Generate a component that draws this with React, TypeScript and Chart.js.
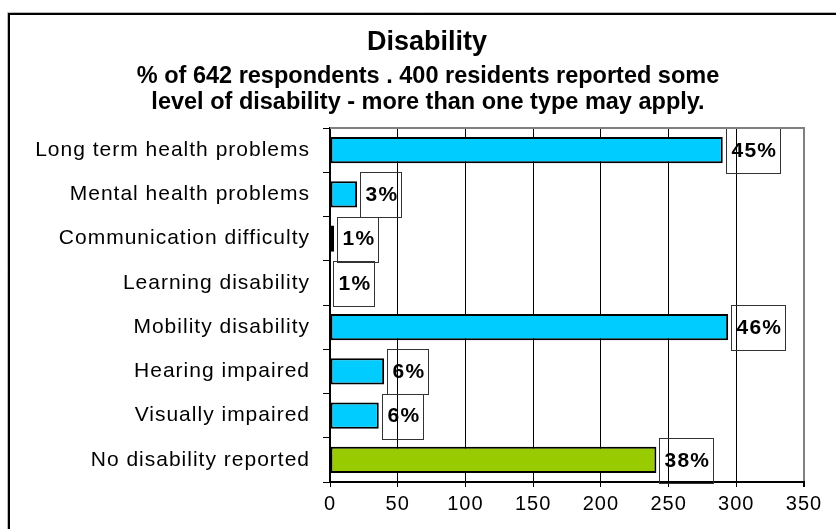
import React, { useEffect, useRef } from 'react';
import { Chart, registerables } from 'chart.js';

Chart.register(...registerables);

const categories = [
  'Long term health problems',
  'Mental health problems',
  'Communication difficulty',
  'Learning disability',
  'Mobility disability',
  'Hearing impaired',
  'Visually impaired',
  'No disability reported',
];
const respondents = [290, 20, 3, 0, 294, 40, 36, 241];
const percentLabels = ['45%', '3%', '1%', '1%', '46%', '6%', '6%', '38%'];
const barColors = ['#00CCFF', '#00CCFF', '#00CCFF', '#00CCFF', '#00CCFF', '#00CCFF', '#00CCFF', '#99CC00'];
const xMin = 0;
const xMax = 350;
const xStep = 50;
const titleText = 'Disability';
const subtitleLines = [
  '% of 642 respondents . 400 residents reported some',
  'level of disability - more than one type may apply.',
];

const FONT = '"Liberation Sans", Arial, sans-serif';

const decorPlugin = {
  id: 'decor',
  beforeDraw(chart: any) {
    chart.ctx.letterSpacing = '1px';
  },
  afterDatasetsDraw(chart: any) {
    const ctx = chart.ctx;
    const meta = chart.getDatasetMeta(0);
    const ys = chart.scales.y;
    const rowH = Math.abs(ys.getPixelForValue(1) - ys.getPixelForValue(0));
    ctx.save();
    ctx.letterSpacing = '1.2px';
    ctx.font = `bold 21px ${FONT}`;
    ctx.textBaseline = 'middle';
    ctx.textAlign = 'left';
    meta.data.forEach((bar: any, i: number) => {
      const label = percentLabels[i];
      const tw = ctx.measureText(label).width;
      const left = Math.round(bar.x + 3) + 0.5;
      const top = Math.round(bar.y - rowH / 2) + 0.5;
      ctx.strokeStyle = '#333';
      ctx.lineWidth = 1;
      ctx.strokeRect(left, top, Math.round(tw + 8), Math.round(rowH + 1));
      ctx.fillStyle = '#000';
      ctx.fillText(label, left + 5, bar.y + 1);
    });
    ctx.restore();
  },
  afterDraw(chart: any) {
    const ctx = chart.ctx;
    const area = chart.chartArea;
    ctx.save();
    // plot area top border
    ctx.strokeStyle = '#808080';
    ctx.lineWidth = 2;
    ctx.beginPath();
    ctx.moveTo(area.left, area.top);
    ctx.lineTo(area.right + 1, area.top);
    ctx.stroke();
    // outer frame
    ctx.strokeStyle = '#bbb';
    ctx.lineWidth = 1;
    ctx.beginPath();
    ctx.moveTo(7.5, 529);
    ctx.lineTo(7.5, 12.5);
    ctx.lineTo(836, 12.5);
    ctx.stroke();
    ctx.strokeStyle = '#000';
    ctx.lineWidth = 2;
    ctx.beginPath();
    ctx.moveTo(9, 529);
    ctx.lineTo(9, 14);
    ctx.lineTo(836, 14);
    ctx.stroke();
    // titles
    ctx.letterSpacing = '0px';
    ctx.fillStyle = '#000';
    ctx.textAlign = 'center';
    ctx.textBaseline = 'alphabetic';
    ctx.font = `bold 27px ${FONT}`;
    ctx.fillText(titleText, 427, 50);
    ctx.font = `bold 23.5px ${FONT}`;
    ctx.fillText(subtitleLines[0], 428, 83);
    ctx.fillText(subtitleLines[1], 428, 109);
    ctx.restore();
  },
};

export default function App() {
  const ref = useRef<HTMLCanvasElement>(null);
  useEffect(() => {
    if (!ref.current) return;
    const chart = new Chart(ref.current, {
      type: 'bar',
      data: {
        labels: categories,
        datasets: [
          {
            data: respondents,
            backgroundColor: barColors,
            borderColor: '#000',
            borderWidth: 2,
            borderSkipped: false,
            barPercentage: 0.59,
            categoryPercentage: 1,
          },
        ],
      },
      options: {
        indexAxis: 'y',
        responsive: false,
        animation: false,
        events: [],
        layout: { padding: { top: 128, right: 32, left: 0, bottom: 0 } },
        plugins: {
          legend: { display: false },
          title: { display: false },
          tooltip: { enabled: false },
        },
        scales: {
          x: {
            min: xMin,
            max: xMax,
            ticks: {
              stepSize: xStep,
              color: '#000',
              font: { family: FONT, size: 20 },
              padding: 5,
            },
            grid: {
              color: (c: any) => (c.tick && c.tick.value === xMax ? '#808080' : '#000'),
              lineWidth: (c: any) => (c.tick && c.tick.value === xMax ? 2 : 1),
              tickLength: 5,
              tickColor: '#000',
            },
            border: { color: '#000', width: 2 },
            afterFit: (s: any) => {
              s.height = 47;
            },
          },
          y: {
            ticks: {
              color: '#000',
              font: { family: FONT, size: 21 },
              padding: 13,
            },
            grid: {
              drawOnChartArea: false,
              tickLength: 7,
              color: '#000',
              offset: true,
            },
            border: { color: '#000', width: 2 },
            afterFit: (s: any) => {
              s.width = 330;
            },
          },
        },
      },
      plugins: [decorPlugin],
    });
    return () => chart.destroy();
  }, []);
  return (
    <div style={{ position: 'absolute', left: 0, top: 0, width: 836, height: 529, background: '#fff' }}>
      <canvas ref={ref} width={836} height={529} style={{ width: 836, height: 529, display: 'block' }} />
    </div>
  );
}
